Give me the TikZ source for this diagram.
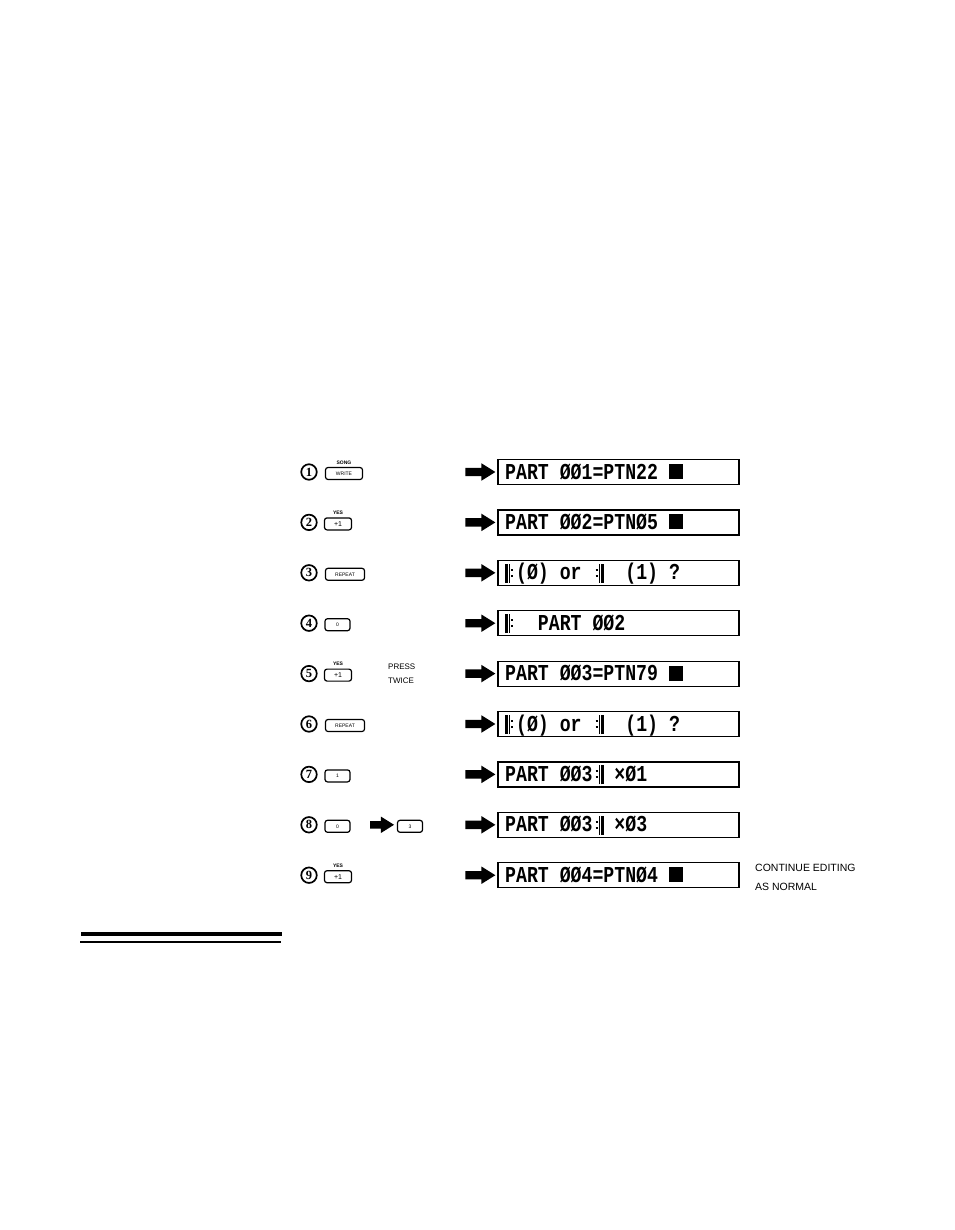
\documentclass[tikz,border=0pt]{standalone}
\usepackage{fontspec}
\usepackage{graphicx}
\newfontfamily\lcdfont{Liberation Mono}
\newfontfamily\keyfont{Liberation Sans}
\newfontfamily\numfont{Liberation Serif}
\usetikzlibrary{shapes.arrows,positioning}

% display symbols
\newcommand\rpdots{\rlap{\raisebox{2.6pt}{\rule{2pt}{1.6pt}}}\raisebox{7.4pt}{\rule{2pt}{1.6pt}}}
\newcommand\rpS{\makebox[0.6em][l]{\rule[-2.4pt]{2.4pt}{15.2pt}\hspace{1.3pt}\rule[-2.4pt]{1pt}{15.2pt}\hspace{1.3pt}\rpdots}}
\newcommand\rpE{\makebox[0.6em][r]{\rpdots\hspace{1.3pt}\rule[-2.4pt]{1pt}{15.2pt}\hspace{1.3pt}\rule[-2.4pt]{2.4pt}{15.2pt}}}
\newcommand\blk{\rule{13.5pt}{12pt}}
\newcommand\lcd[1]{\scalebox{1}[1.25]{\lcdfont\bfseries\fontsize{18.2}{18.2}\selectfont #1}}

\begin{document}
\begin{tikzpicture}[x=1pt,y=-1pt,
    num/.style={circle,draw,line width=1.7pt,minimum size=15.5pt,inner sep=0pt,
      font=\numfont\bfseries\fontsize{12.5}{12.5}\selectfont},
    key/.style={draw,rounded corners=2.5pt,line width=1.2pt,minimum height=12pt,
      inner sep=0pt,font=\keyfont\fontsize{5}{5}\selectfont},
    keytag/.style={inner sep=0pt,font=\keyfont\bfseries\fontsize{5}{5}\selectfont},
    fatarrow/.style={single arrow,fill,inner xsep=0pt,inner ysep=4pt,
      minimum height=30pt,single arrow head extend=4.5pt,single arrow tip angle=64},
    lcdbox/.style={draw,line width=1.2pt,minimum width=241pt,minimum height=25pt,inner sep=0pt},
    lcdtext/.style={anchor=base west,inner sep=0pt},
    note/.style={anchor=base west,inner sep=0pt,font=\keyfont\fontsize{10.5}{10.5}\selectfont}]

  \fill[white] (0,0) rectangle (954,1230);
  \useasboundingbox (0,0) rectangle (954,1230);

  % steps, arrows and displays
  \foreach \i/\txt in {1/{PART ØØ1=PTN22 \blk},2/{PART ØØ2=PTNØ5 \blk},
      3/{\rpS(Ø) or \rpE\ \ (1) ?},4/{\rpS\ \ PART ØØ2},5/{PART ØØ3=PTN79 \blk},
      6/{\rpS(Ø) or \rpE\ \ (1) ?},7/{PART ØØ3\rpE{} ×Ø1},8/{PART ØØ3\rpE{} ×Ø3},
      9/{PART ØØ4=PTNØ4 \blk}}{
    \pgfmathsetmacro\y{472+50.4*(\i-1)}
    \node[num] (n\i) at (309,\y) {\i};
    \node[fatarrow] (a\i) at (477,\y) {};
    \node[lcdbox] (d\i) at (618.5,\y) {};
    \node[lcdtext] (t\i) at (505,\y+7) {\lcd{\txt}};
  }

  % keys
  \node[key,minimum width=37pt] (k1) at (344,473.5) {WRITE};
  \node[keytag,above=2.5pt of k1] (s1) {SONG};
  \node[key,minimum width=27pt,font=\keyfont\fontsize{7}{7}\selectfont] (k2) at (338,523.9) {+1};
  \node[keytag,above=2.5pt of k2] (s2) {YES};
  \node[key,minimum width=39pt] (k3) at (345,574.3) {REPEAT};
  \node[key,minimum width=25pt] (k4) at (337.5,624.7) {0};
  \node[key,minimum width=27pt,font=\keyfont\fontsize{7}{7}\selectfont] (k5) at (338,675.1) {+1};
  \node[keytag,above=2.5pt of k5] (s5) {YES};
  \node[note,font=\keyfont\fontsize{8}{8}\selectfont] (p5) at (388,669) {PRESS};
  \node[note,font=\keyfont\fontsize{8}{8}\selectfont] (w5) at (388,683) {TWICE};
  \node[key,minimum width=39pt] (k6) at (345,725.5) {REPEAT};
  \node[key,minimum width=25pt] (k7) at (337.5,775.9) {1};
  \node[key,minimum width=25pt] (k8) at (337.5,826.3) {0};
  \node[fatarrow,minimum height=24pt,inner ysep=3.6pt] (b8) at (379,824.8) {};
  \node[key,minimum width=25pt] (m8) at (410,826.3) {3};
  \node[key,minimum width=27pt,font=\keyfont\fontsize{7}{7}\selectfont] (k9) at (338,876.7) {+1};
  \node[keytag,above=2.5pt of k9] (s9) {YES};

  % closing note
  \node[note] (c1) at (755,871) {CONTINUE EDITING};
  \node[note] (c2) at (755,890) {AS NORMAL};

  % rules at the foot
  \fill (81,932) rectangle (282,936);
  \draw[line width=1.2pt] (80,942) -- (281,942);
\end{tikzpicture}
\end{document}
